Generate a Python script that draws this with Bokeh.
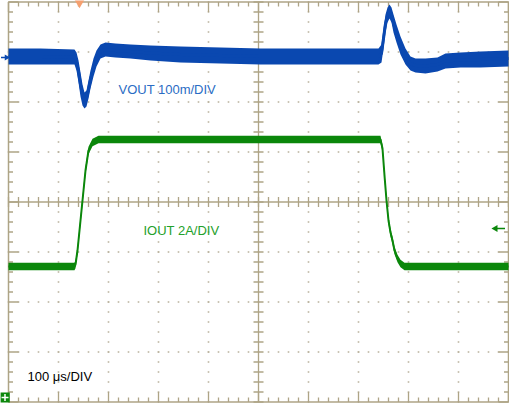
import numpy as np
from bokeh.plotting import figure
from bokeh.models import Range1d
from bokeh.core.properties import value
from bokeh.embed import file_html
from bokeh.resources import INLINE

# ---------------- data ----------------
US_PER_DIV = 100.0      # time base 100 us/div
VOUT_MV_PER_DIV = 100.0 # CH1 100 mV/div
IOUT_A_PER_DIV = 2.0    # CH2 2 A/div
VOUT_REF_DIV = 2.89     # CH1 reference marker position (div from centre)
IOUT_REF_DIV = -3.91    # CH2 reference marker position (div from centre)
TRIG_POS_US = 142       # trigger position marker (top)
TRIG_LEVEL_DIV = -0.53  # trigger level marker (right)

# VOUT (AC deviation, mV): time in us, upper and lower edge of noisy trace
vout_t = [0, 64, 132, 136, 140, 144, 148, 152, 156, 160, 164, 170, 176, 184, 194,
          214, 244, 284, 344, 424, 504, 584, 664, 740, 746, 750, 754, 758, 762,
          766, 770, 776, 784, 794, 804, 814, 834, 858, 874, 904, 944, 1000]
vout_hi_mv = [18, 18, 16, 10, -6, -30, -54, -70, -66, -46, -26, -2, 14, 26, 30,
              28, 26, 24, 22, 20, 18, 18, 18, 18, 26, 58, 86, 100, 106,
              100, 86, 66, 42, 18, 2, -2, -2, 0, 8, 10, 12, 14]
vout_lo_mv = [-14, -14, -14, -26, -50, -78, -96, -102, -98, -82, -62, -38, -18, -2, 2,
              0, -2, -6, -10, -12, -14, -14, -14, -14, -10, 18, 50, 70, 78,
              70, 50, 30, 6, -14, -26, -30, -32, -28, -22, -20, -20, -18]

# IOUT (A): time in us, trace centre
iout_t = [0, 132, 134, 138, 144, 148, 154, 160, 168, 180, 744, 748, 752, 756,
          760, 764, 768, 772, 778, 784, 792, 1000]
iout_a = [5.24, 5.24, 5.32, 5.88, 7.08, 7.88, 9.08, 9.88, 10.2, 10.32, 10.32, 9.96,
          8.88, 7.88, 7.08, 6.6, 6.28, 5.88, 5.56, 5.36, 5.24, 5.24]
iout_noise_a = 0.15

labels = ["VOUT 100m/DIV", "IOUT 2A/DIV", "100 \u03bcs/DIV"]

# ---------------- styling ----------------
FRAME = "#aea486"
DOT = "#b9b19c"
BLUE = "#0a48b0"
BLUE_TXT = "#2a6cc4"
GREEN = "#0b870b"
GREEN_TXT = "#23a02a"
FONT = value("Liberation Sans")

# 50 px per division; screen frame spans 0..10 div x, -4..4 div y
p = figure(width=509, height=404, output_backend="svg", toolbar_location=None,
           x_range=Range1d(-0.16, 10.02), y_range=Range1d(-4.05, 4.03),
           x_axis_location=None, y_axis_location=None, min_border=0)
p.grid.visible = False
p.background_fill_color = "white"
p.border_fill_color = "white"
p.outline_line_color = None

# dotted graticule
dx, dy = [], []
for i in range(1, 10):
    if i == 5:
        continue
    ys = np.arange(-4, 4.01, 0.2)
    dx += [i] * len(ys)
    dy += list(ys)
for j in range(-3, 4):
    if j == 0:
        continue
    xs = np.arange(0, 10.01, 0.2)
    dx += list(xs)
    dy += [j] * len(xs)
p.scatter(dx, dy, marker="square", size=1.6, fill_color=DOT, line_color=None)

# screen border
p.line([0, 10, 10, 0, 0], [-4, -4, 4, 4, -4], line_color=FRAME, line_width=1.5)

# centre cross lines with tick marks
p.segment(x0=[5, 0], y0=[-4, 0], x1=[5, 10], y1=[4, 0], line_color=FRAME, line_width=1.3)
tk = np.arange(0, 10.01, 0.2)
p.segment(x0=tk, y0=-0.1, x1=tk, y1=0.1, line_color=FRAME, line_width=1.3)
tk = np.arange(-4, 4.01, 0.2)
p.segment(x0=4.9, y0=tk, x1=5.1, y1=tk, line_color=FRAME, line_width=1.3)

# border ticks
xs = np.arange(0, 10.01, 0.2)
lx = np.where(np.isclose(xs % 1, 0) | np.isclose(xs % 1, 1), 0.2, 0.09)
p.segment(x0=xs, y0=-4, x1=xs, y1=-4 + lx, line_color=FRAME, line_width=1.3)
p.segment(x0=xs, y0=4, x1=xs, y1=4 - lx, line_color=FRAME, line_width=1.3)
ys = np.arange(-4, 4.01, 0.2)
ly = np.where(np.isclose(ys % 1, 0) | np.isclose(ys % 1, 1), 0.2, 0.09)
p.segment(x0=0, y0=ys, x1=ly, y1=ys, line_color=FRAME, line_width=1.3)
p.segment(x0=10, y0=ys, x1=10 - ly, y1=ys, line_color=FRAME, line_width=1.3)

# traces
vt = np.array(vout_t) / US_PER_DIV
vhi = VOUT_REF_DIV + np.array(vout_hi_mv) / VOUT_MV_PER_DIV
vlo = VOUT_REF_DIV + np.array(vout_lo_mv) / VOUT_MV_PER_DIV
p.varea(x=vt, y1=vlo, y2=vhi, fill_color=BLUE)
p.line(vt, (vhi + vlo) / 2, line_color=BLUE, line_width=3)

it = np.array(iout_t) / US_PER_DIV
ic = IOUT_REF_DIV + np.array(iout_a) / IOUT_A_PER_DIV
p.varea(x=it, y1=ic - iout_noise_a / IOUT_A_PER_DIV, y2=ic + iout_noise_a / IOUT_A_PER_DIV,
        fill_color=GREEN)
p.line(it, ic, line_color=GREEN, line_width=2)

# labels
p.text(x=[2.2], y=[2.25], text=[labels[0]], text_font=FONT, text_font_size="13px",
       text_color=BLUE_TXT, text_baseline="middle", text_align="left")
p.text(x=[2.7], y=[-0.57], text=[labels[1]], text_font=FONT, text_font_size="13px",
       text_color=GREEN_TXT, text_baseline="middle", text_align="left")
p.text(x=[0.38], y=[-3.49], text=[labels[2]], text_font=FONT, text_font_size="13px",
       text_color="black", text_baseline="middle", text_align="left")

# markers: trigger position (top), trigger level arrow (right)
p.scatter([TRIG_POS_US / US_PER_DIV], [4.0], marker="inverted_triangle", size=11,
          fill_color="#f5a070", line_color=None)
p.segment(x0=[9.72], y0=[TRIG_LEVEL_DIV], x1=[9.93], y1=[TRIG_LEVEL_DIV],
          line_color=GREEN, line_width=1.5)
p.scatter([9.74], [TRIG_LEVEL_DIV], marker="triangle", angle=np.pi / 2, size=7,
          fill_color=GREEN, line_color=None)

# channel reference markers left of the screen
p.segment(x0=[-0.15], y0=[VOUT_REF_DIV], x1=[-0.03], y1=[VOUT_REF_DIV],
          line_color=BLUE, line_width=1.5)
p.scatter([-0.04], [VOUT_REF_DIV], marker="triangle", angle=-np.pi / 2, size=6,
          fill_color=BLUE, line_color=None)
p.rect(x=[-0.07], y=[IOUT_REF_DIV], width=0.19, height=0.2, fill_color=GREEN,
       line_color=None)
p.scatter([-0.07], [IOUT_REF_DIV], marker="cross", size=7, line_color="white",
          line_width=1.5)

open("out.html", "w").write(file_html(p, INLINE))
